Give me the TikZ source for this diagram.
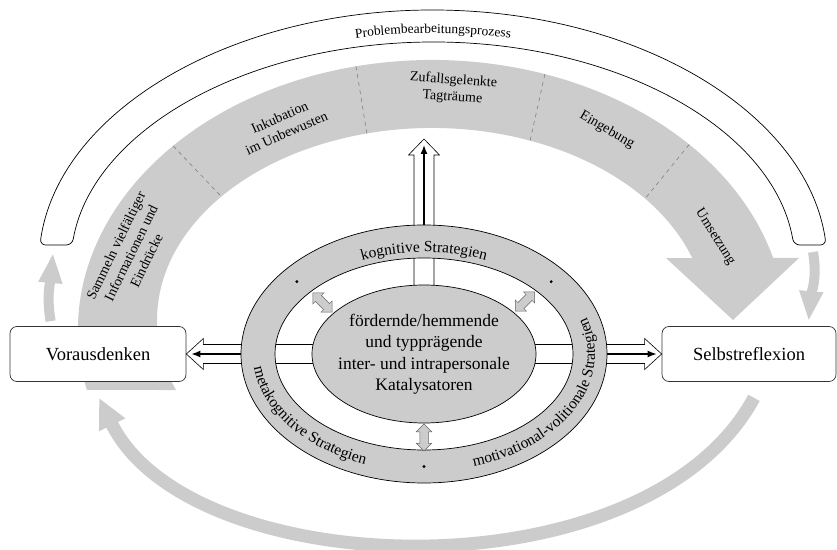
\documentclass[tikz,border=0pt]{standalone}
\usepackage{fontspec}
\setmainfont{Liberation Serif}
\usepackage{tikz}
\usetikzlibrary{arrows.meta,calc,shapes.geometric,shapes.arrows,decorations.text,positioning}
\definecolor{grau}{RGB}{204,204,204}
\definecolor{strich}{RGB}{128,128,128}
\newcommand{\ringschrift}{\fontsize{15.5}{18}\selectfont}
\newcommand{\bandschrift}{\fontsize{13.5}{16}\selectfont}

\begin{document}
\begin{tikzpicture}[x=1pt, y=1pt, line width=0.7pt,
  box/.style={draw=black!80, fill=white, rounded corners=7pt, minimum width=176pt,
              minimum height=55pt, font=\fontsize{18.5}{22}\selectfont},
  band/.style={align=center},
  trenn/.style={draw=strich, dash pattern=on 4pt off 4pt, line width=0.6pt},
  hohl/.style={draw=black, fill=white, line width=0.6pt},
  pfeil/.style={-{Latex[length=9pt,width=7pt]}, line width=1.5pt},
  doppel/.style={double arrow, draw=black!60, fill=grau, minimum height=27pt,
                 double arrow head extend=3.5pt, inner sep=4pt, line width=0.5pt}]
\tikzstyle{every node}=[font=\fontsize{14}{17}\selectfont]
\useasboundingbox (0,0) rectangle (837,549);

\coordinate (bogen) at (433,279);
\coordinate (ga) at (432,219);
\coordinate (gi) at (432,229);
\coordinate (mitte) at (424,195);
\coordinate (spitze) at (424,410);

% Problembearbeitungsprozess
\draw[fill=white, rounded corners=6pt] ($(bogen)+(174.5:395pt and 260pt)$)
  arc[start angle=174.5, end angle=5.5, x radius=395pt, y radius=260pt]
  -- ($(bogen)+(6.3:363pt and 228pt)$)
  arc[start angle=6.3, end angle=173.7, x radius=363pt, y radius=228pt] -- cycle;
\path[decorate, decoration={text along path, text align=center,
  text={|\bandschrift|Problembearbeitungsprozess}}]
  ($(bogen)+(115:372pt and 237pt)$) arc[start angle=115, end angle=65, x radius=372pt, y radius=237pt];

% Phasen
\fill[grau] ($(ga)+(192.8:354pt and 270pt)$)
  arc[start angle=192.8, end angle=15.5, x radius=354pt, y radius=270pt]
  -- (799,291) -- (733,229) -- (666,291)
  -- ($(gi)+(18.8:275pt and 192pt)$)
  arc[start angle=18.8, end angle=201.4, x radius=275pt, y radius=192pt] -- cycle;
\draw[trenn] ($(ga)+(137:354pt and 270pt)$) -- ($(gi)+(140:275pt and 192pt)$);
\draw[trenn] ($(ga)+(102.4:354pt and 270pt)$) -- ($(gi)+(103.7:275pt and 192pt)$);
\draw[trenn] ($(ga)+(71.4:354pt and 270pt)$) -- ($(gi)+(69.1:275pt and 192pt)$);
\draw[trenn] ($(ga)+(43.4:354pt and 270pt)$) -- ($(gi)+(39.2:275pt and 192pt)$);

\node[band, rotate=64] (sammeln) at (131,296) {Sammeln vielfältiger\\Informationen und\\Eindrücke};
\node[band, rotate=24] (inkubation) at (283,424) {Inkubation\\im Unbewusten};
\node[band, rotate=-4] (zufall) at (453,460) {Zufallsgelenkte\\Tagträume};
\node[band, rotate=-30] (eingebung) at (607,419) {Eingebung};
\node[band, rotate=-58] (umsetzung) at (715,312) {Umsetzung};

% Kaesten
\node[box] (vor) at (98,195) {Vorausdenken};
\node[box, minimum width=174pt] (sel) at (749,195) {Selbstreflexion};

\coordinate (bandL) at (53,296);
\coordinate (bandR) at (813,297);
\draw[grau, line width=10pt, -{Triangle[length=30pt,width=22pt]}]
  ([xshift=41pt,yshift=5pt]vor.north west) to[out=100,in=-95] (bandL);
\draw[grau, line width=10pt, -{Triangle[length=30pt,width=22pt]}]
  (bandR) to[out=-80,in=85] ([xshift=147pt,yshift=5pt]sel.north west);
\draw[grau, line width=13pt, -{Triangle[length=30pt,width=27pt]}]
  ([xshift=5pt,yshift=-16pt]sel.south) .. controls +(-109,-201) and +(91,-186)
  .. ([xshift=1pt,yshift=-16pt]vor.south);

% Hohlpfeile
\draw[hohl] ([yshift=9.5pt]mitte) -- ([xshift=17pt,yshift=9.5pt]vor.east)
  -- ([xshift=17pt,yshift=15.5pt]vor.east) -- (vor.east)
  -- ([xshift=17pt,yshift=-15.5pt]vor.east) -- ([xshift=17pt,yshift=-9.5pt]vor.east)
  -- ([yshift=-9.5pt]mitte) -- cycle;
\draw[hohl] ([yshift=9.5pt]mitte) -- ([xshift=-17pt,yshift=9.5pt]sel.west)
  -- ([xshift=-17pt,yshift=15.5pt]sel.west) -- (sel.west)
  -- ([xshift=-17pt,yshift=-15.5pt]sel.west) -- ([xshift=-17pt,yshift=-9.5pt]sel.west)
  -- ([yshift=-9.5pt]mitte) -- cycle;
\draw[hohl] ([xshift=-10pt]mitte) -- ([xshift=-10pt,yshift=-16pt]spitze)
  -- ([xshift=-15.5pt,yshift=-16pt]spitze) -- (spitze)
  -- ([xshift=15.5pt,yshift=-16pt]spitze) -- ([xshift=10pt,yshift=-16pt]spitze)
  -- ([xshift=10pt]mitte) -- cycle;

\coordinate (ringL) at (241,195);
\coordinate (ringR) at (607,195);
\coordinate (ringO) at (424,324);
\draw[pfeil] (ringL) -- ([xshift=5pt]vor.east);
\draw[pfeil] (ringR) -- ([xshift=-5pt]sel.west);
\draw[pfeil] (ringO) -- ([yshift=-6pt]spitze);

% Strategien
\path[fill=grau, draw=black, even odd rule] (mitte) ellipse [x radius=183pt, y radius=129pt]
  (mitte) ellipse [x radius=149pt, y radius=96pt];
\fill ($(mitte)+(140:166pt and 112.5pt)$) circle[radius=1.6pt];
\fill ($(mitte)+(40:166pt and 112.5pt)$) circle[radius=1.6pt];
\fill ($(mitte)+(270:166pt and 112.5pt)$) circle[radius=1.6pt];
\path[decorate, decoration={text along path, text align=center,
  text={|\ringschrift|kognitive Strategien}}]
  ($(mitte)+(130:156pt and 102pt)$) arc[start angle=130, end angle=50, x radius=156pt, y radius=102pt];
\path[decorate, decoration={text along path, text align=center,
  text={|\ringschrift|metakognitive Strategien}}]
  ($(mitte)+(165:171pt and 117.5pt)$) arc[start angle=165, end angle=265, x radius=171pt, y radius=117.5pt];
\path[decorate, decoration={text along path, text align=center,
  text={|\ringschrift|motivational-volitionale Strategien}}]
  ($(mitte)+(270:171pt and 117.5pt)$) arc[start angle=270, end angle=400, x radius=171pt, y radius=117.5pt];

\node[doppel, rotate=-45] (dlinks) at (322.5,246.5) {};
\node[doppel, rotate=45] (drechts) at (525,247.5) {};
\node[doppel, rotate=90] (dunten) at (424,111.5) {};

\node[ellipse, draw, fill=grau, minimum width=224pt, minimum height=138pt, inner sep=-14pt,
  align=center, font=\fontsize{17.5}{21.5}\selectfont] (kern) at (mitte)
  {fördernde/hemmende\\und typprägende\\inter- und intrapersonale\\Katalysatoren};
\end{tikzpicture}
\end{document}
